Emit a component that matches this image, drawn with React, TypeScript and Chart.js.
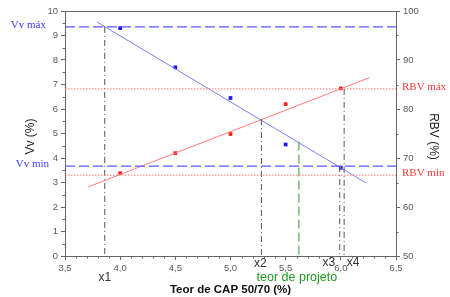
import { useEffect, useRef } from 'react';
import { Chart, registerables } from 'chart.js';
Chart.register(...registerables);

// Measured data
const teorCAP = [4.0, 4.5, 5.0, 5.5, 6.0];
const vvValues = [9.3, 7.7, 6.45, 4.55, 3.6];
const rbvValues = [66.9, 71.0, 74.9, 81.0, 84.2];

// Fit lines (end points)
const vvFitX = [3.79, 6.23];
const vvFitY = [9.55, 2.98];
const rbvFitX = [3.71, 6.26];
const rbvFitY = [64.1, 86.4];

// Limits
const vvLimits = [9.35, 3.67]; // máx, min
const rbvLimits = [84.1, 66.5]; // máx, min
const vvLimitNames = ['Vv máx', 'Vv min'];
const rbvLimitNames = ['RBV máx', 'RBV min'];

// Vertical markers
const markerNames = ['x1', 'x2', 'x3', 'x4'];
const markerX = [3.86, 5.28, 5.99, 6.03];
const markerTop = [9.35, 5.59, 3.67, 84.1];
const markerAxis = ['y', 'y', 'y', 'y1'];
const projetoX = 5.62;
const projetoTop = 4.67;
const projetoName = 'teor de projeto';

const xTitle = 'Teor de CAP 50/70 (%)';
const yTitle = 'Vv (%)';
const y1Title = 'RBV (%)';

const X_MIN = 3.5, X_MAX = 6.5;

const sans = 'Arial, "Liberation Sans", sans-serif';
const serif = '"Times New Roman", "Liberation Serif", serif';

const overlay = {
  id: 'overlay',
  afterDraw(chart: any) {
    const ctx = chart.ctx;
    const { left, right, top, bottom } = chart.chartArea;
    const xs = chart.scales.x, ys = chart.scales.y, y1 = chart.scales.y1;
    ctx.save();
    ctx.strokeStyle = '#666';
    ctx.lineWidth = 1;
    // top border
    ctx.beginPath();
    ctx.moveTo(left, top + 0.5);
    ctx.lineTo(right, top + 0.5);
    ctx.stroke();
    // minor ticks
    ctx.beginPath();
    for (let i = 0; i <= 30; i++) {
      if (i % 5 === 0) continue;
      const px = Math.round(xs.getPixelForValue(X_MIN + i * 0.1)) + 0.5;
      ctx.moveTo(px, bottom);
      ctx.lineTo(px, bottom + 2.5);
    }
    for (let i = 0; i < 10; i++) {
      const py = Math.round(ys.getPixelForValue(i + 0.5)) + 0.5;
      ctx.moveTo(left, py);
      ctx.lineTo(left - 2.5, py);
    }
    for (let v = 55; v < 100; v += 10) {
      const py = Math.round(y1.getPixelForValue(v)) + 0.5;
      ctx.moveTo(right, py);
      ctx.lineTo(right + 2.5, py);
    }
    ctx.stroke();

    // axis titles
    ctx.fillStyle = '#111';
    ctx.font = `bold 11.5px ${sans}`;
    ctx.textAlign = 'center';
    ctx.textBaseline = 'middle';
    ctx.fillText(xTitle, (left + right) / 2, 290);
    ctx.font = `12px ${sans}`;
    ctx.fillStyle = '#222';
    ctx.save();
    ctx.translate(31, (top + bottom) / 2 + 3);
    ctx.rotate(-Math.PI / 2);
    ctx.fillText(yTitle, 0, 0);
    ctx.restore();
    ctx.save();
    ctx.translate(433, (top + bottom) / 2 + 3);
    ctx.rotate(Math.PI / 2);
    ctx.fillText(y1Title, 0, 0);
    ctx.restore();

    // limit labels
    ctx.font = `11px ${serif}`;
    ctx.fillStyle = '#3a3aff';
    ctx.textAlign = 'right';
    const vvRight = [46, 49];
    vvLimits.forEach((v, i) => {
      ctx.fillText(vvLimitNames[i], vvRight[i], ys.getPixelForValue(v) - 2);
    });
    ctx.fillStyle = '#ff3b3b';
    ctx.textAlign = 'left';
    rbvLimits.forEach((v, i) => {
      ctx.fillText(rbvLimitNames[i], 402, y1.getPixelForValue(v) - 2);
    });

    // marker labels
    ctx.font = `12px ${sans}`;
    ctx.fillStyle = '#333';
    ctx.textAlign = 'center';
    const offs = [[0, 22], [-1, 8], [-11, 7], [9, 7]];
    markerX.forEach((x, i) => {
      const px = xs.getPixelForValue(x);
      ctx.fillText(markerNames[i], px + offs[i][0], bottom + offs[i][1]);
    });
    ctx.fillStyle = '#1f9a1f';
    ctx.font = `12.5px ${sans}`;
    ctx.fillText(projetoName, xs.getPixelForValue(projetoX) - 2, bottom + 22);
    ctx.restore();
  },
};

export default function App() {
  const ref = useRef<HTMLCanvasElement>(null);
  useEffect(() => {
    if (!ref.current) return;
    const datasets: any[] = [];
    // horizontal limit lines
    vvLimits.forEach((v) => {
      datasets.push({
        data: [{ x: X_MIN, y: v }, { x: X_MAX, y: v }],
        yAxisID: 'y', showLine: true, borderColor: '#5a5aff', borderWidth: 1.2,
        borderDash: [10, 4], pointRadius: 0,
      });
    });
    rbvLimits.forEach((v) => {
      datasets.push({
        data: [{ x: X_MIN, y: v }, { x: X_MAX, y: v }],
        yAxisID: 'y1', showLine: true, borderColor: '#ff7070', borderWidth: 1,
        borderDash: [1.5, 1.5], pointRadius: 0,
      });
    });
    // vertical markers
    markerX.forEach((x, i) => {
      const axis = markerAxis[i];
      const bottomVal = axis === 'y' ? 0 : 50;
      datasets.push({
        data: [{ x, y: markerTop[i] }, { x, y: bottomVal }],
        yAxisID: axis, showLine: true, borderColor: '#555', borderWidth: 1,
        borderDash: [6, 3, 1, 3], pointRadius: 0,
      });
    });
    datasets.push({
      data: [{ x: projetoX, y: projetoTop }, { x: projetoX, y: 0 }],
      yAxisID: 'y', showLine: true, borderColor: '#2e9e2e', borderWidth: 1,
      borderDash: [9, 4], pointRadius: 0,
    });
    // fit lines
    datasets.push({
      data: vvFitX.map((x, i) => ({ x, y: vvFitY[i] })),
      yAxisID: 'y', showLine: true, borderColor: '#7b7bff', borderWidth: 1, pointRadius: 0,
    });
    datasets.push({
      data: rbvFitX.map((x, i) => ({ x, y: rbvFitY[i] })),
      yAxisID: 'y1', showLine: true, borderColor: '#ff7a7a', borderWidth: 1, pointRadius: 0,
    });
    // points
    datasets.push({
      data: teorCAP.map((x, i) => ({ x, y: vvValues[i] })),
      yAxisID: 'y', showLine: false, pointStyle: 'rect', pointRadius: 2.6,
      backgroundColor: '#1515ff', borderColor: '#1515ff', borderWidth: 0,
    });
    datasets.push({
      data: teorCAP.map((x, i) => ({ x, y: rbvValues[i] })),
      yAxisID: 'y1', showLine: false, pointStyle: 'rect', pointRadius: 2.6,
      backgroundColor: '#ff1a1a', borderColor: '#ff1a1a', borderWidth: 0,
    });

    const tickFont = { family: sans, size: 9.5 };
    const chart = new Chart(ref.current, {
      type: 'scatter',
      data: { datasets },
      options: {
        animation: false,
        responsive: false,
        maintainAspectRatio: false,
        layout: { padding: { top: 11, left: 0, right: 0, bottom: 0 } },
        plugins: { legend: { display: false }, tooltip: { enabled: false } },
        scales: {
          x: {
            type: 'linear', min: X_MIN, max: X_MAX,
            grid: { drawOnChartArea: false, drawTicks: true, tickLength: 4, color: '#666' },
            border: { color: '#666' },
            ticks: {
              stepSize: 0.5, padding: 3, color: '#5a5a5a', font: tickFont, maxRotation: 0,
              callback: (v: any) => Number(v).toFixed(1).replace('.', ','),
            },
            afterFit: (s: any) => { s.height = 41; },
          },
          y: {
            type: 'linear', position: 'left', min: 0, max: 10,
            grid: { drawOnChartArea: false, drawTicks: true, tickLength: 4, color: '#666' },
            border: { color: '#666' },
            ticks: { stepSize: 1, padding: 3, color: '#5a5a5a', font: tickFont },
            afterFit: (s: any) => { s.width = 65; },
          },
          y1: {
            type: 'linear', position: 'right', min: 50, max: 100,
            grid: { drawOnChartArea: false, drawTicks: true, tickLength: 4, color: '#666' },
            border: { color: '#666' },
            ticks: { stepSize: 10, padding: 3, color: '#5a5a5a', font: tickFont },
            afterFit: (s: any) => { s.width = 54; },
          },
        },
      },
      plugins: [overlay],
    });
    return () => chart.destroy();
  }, []);
  return (
    <div style={{ position: 'fixed', left: 0, top: 0, width: 450, height: 297, background: '#fff' }}>
      <canvas ref={ref} width={450} height={297} style={{ width: 450, height: 297 }} />
    </div>
  );
}
